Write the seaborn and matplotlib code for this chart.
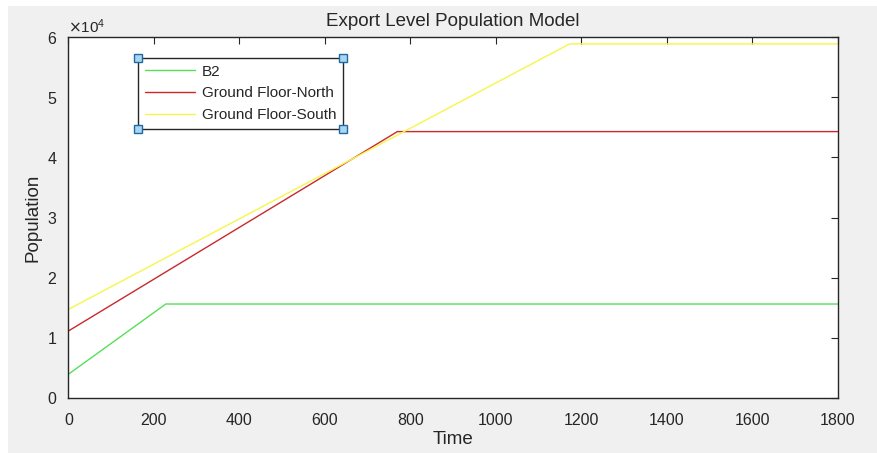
"""Export level population model chart (MATLAB-style look)."""

import matplotlib
matplotlib.use("Agg")
import matplotlib.pyplot as plt
from matplotlib.lines import Line2D
from matplotlib.patches import Rectangle
from matplotlib.ticker import ScalarFormatter
import pandas as pd
import seaborn as sns

# values: each series ramps up, then stays flat
series_names = ["B2", "Ground Floor-North", "Ground Floor-South"]
time_b2 = [0, 228, 1800]
pop_b2 = [3900, 15600, 15600]
time_north = [0, 770, 1800]
pop_north = [11100, 44300, 44300]
time_south = [0, 1173, 1800]
pop_south = [14700, 58900, 58900]

x_ticks = [0, 200, 400, 600, 800, 1000, 1200, 1400, 1600, 1800]
y_ticks = [0, 10000, 20000, 30000, 40000, 50000, 60000]

line_colors = ["#55e055", "#c9282d", "#f6f64a"]
text_gray = "#262626"

df = pd.concat(
    [
        pd.DataFrame({"Time": time_b2, "Population": pop_b2, "series": series_names[0]}),
        pd.DataFrame({"Time": time_north, "Population": pop_north, "series": series_names[1]}),
        pd.DataFrame({"Time": time_south, "Population": pop_south, "series": series_names[2]}),
    ],
    ignore_index=True,
)

sns.set_theme(style="white")
plt.rcParams["font.family"] = ["Liberation Sans", "DejaVu Sans"]
plt.rcParams["axes.unicode_minus"] = False

fig = plt.figure(figsize=(8.77, 4.53), dpi=100, facecolor="white")
# grey figure area, leaving the thin white strip on the left and top
fig.add_artist(Rectangle((8 / 877, 0), 1, 1 - 6 / 453, transform=fig.transFigure,
                         facecolor="#f0f0f0", edgecolor="none", zorder=-10))

ax = fig.add_axes([0.0779, 0.122, 0.8771, 0.7957])
ax.set_facecolor("white")

sns.lineplot(
    data=df, x="Time", y="Population", hue="series",
    hue_order=series_names, palette=line_colors,
    linewidth=1.0, ax=ax, sort=False, estimator=None,
)

ax.set_xlim(0, 1800)
ax.set_ylim(0, 60000)
ax.set_xticks(x_ticks)
ax.set_yticks(y_ticks)

fmt = ScalarFormatter(useMathText=True)
fmt.set_powerlimits((0, 0))
ax.yaxis.set_major_formatter(fmt)
ax.yaxis.get_offset_text().set_fontsize(11)
ax.yaxis.get_offset_text().set_color(text_gray)

ax.tick_params(direction="in", length=5, width=0.8, colors=text_gray,
               labelsize=11.5, top=True, right=True)
ax.tick_params(axis="y", pad=8)
ax.tick_params(axis="x", pad=11)
for side in ax.spines.values():
    side.set_color(text_gray)
    side.set_linewidth(1.0)

ax.set_xlabel("Time", fontsize=13.5, color=text_gray, labelpad=2)
ax.set_ylabel("Population", fontsize=13.5, color=text_gray, labelpad=4)
ax.set_title("Export Level Population Model", fontsize=13.5, color=text_gray, pad=8)

leg = ax.legend(
    loc="upper left", bbox_to_anchor=(0.0905, 0.9426), borderaxespad=0,
    fancybox=False, framealpha=1, edgecolor=text_gray, fontsize=11,
    handlelength=3.3, handletextpad=0.45, labelspacing=0.5,
    borderpad=0.45,
)
leg.get_frame().set_linewidth(1.0)
for t in leg.get_texts():
    t.set_color(text_gray)

# selection handles at the legend corners, as in the MATLAB editor screenshot
fig.canvas.draw()
bb = leg.get_window_extent().transformed(fig.transFigure.inverted())
for cx, cy in [(bb.x0, bb.y0), (bb.x1, bb.y0), (bb.x0, bb.y1), (bb.x1, bb.y1)]:
    fig.add_artist(Line2D([cx], [cy], marker="s", markersize=6,
                          markerfacecolor="#a9d6f2", markeredgecolor="#1f6aa5",
                          markeredgewidth=1, transform=fig.transFigure, zorder=20))

fig.savefig("out.png", dpi=100, facecolor=fig.get_facecolor())
